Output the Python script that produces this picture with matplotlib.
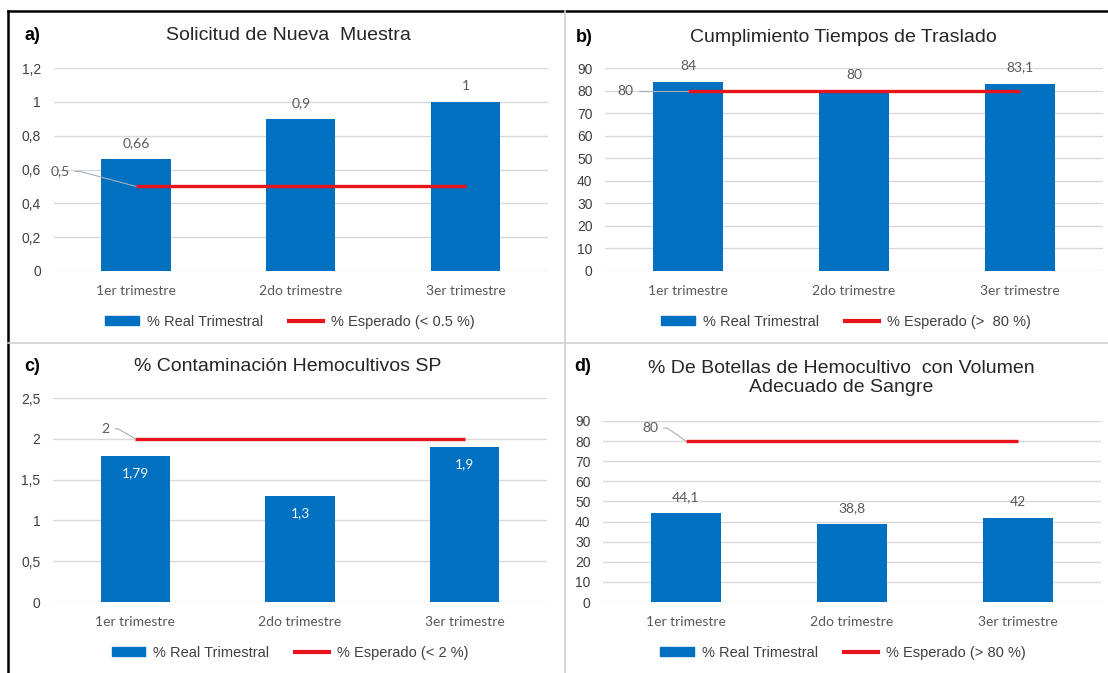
"""Four-panel quarterly indicator chart (real vs expected %)."""
import matplotlib.pyplot as plt
import numpy as np
from matplotlib.lines import Line2D
from matplotlib.patches import Patch

# Data.
quarters = ['1er trimestre', '2do trimestre', '3er trimestre']

real_a = [0.66, 0.9, 1.0]
target_a = [0.5, 0.5, 0.5]
yticks_a = [0, 0.2, 0.4, 0.6, 0.8, 1.0, 1.2]

real_b = [84, 80, 83.1]
target_b = [80, 80, 80]
yticks_b = [0, 10, 20, 30, 40, 50, 60, 70, 80, 90]

real_c = [1.79, 1.3, 1.9]
target_c = [2, 2, 2]
yticks_c = [0, 0.5, 1.0, 1.5, 2.0, 2.5]

real_d = [44.1, 38.8, 42]
target_d = [80, 80, 80]
yticks_d = [0, 10, 20, 30, 40, 50, 60, 70, 80, 90]

titles = ['Solicitud de Nueva  Muestra',
          'Cumplimiento Tiempos de Traslado',
          '% Contaminación Hemocultivos SP',
          '% De Botellas de Hemocultivo  con Volumen\nAdecuado de Sangre']
panel_tags = ['a)', 'b)', 'c)', 'd)']
real_label = '% Real Trimestral'
target_labels = ['% Esperado (< 0.5 %)', '% Esperado (>  80 %)',
                 '% Esperado (< 2 %)', '% Esperado (> 80 %)']

BLUE = '#0070C0'
RED = '#E8141C'
GRID = '#D9D9D9'
W, H = 1108, 673


def fmt(v):
    """ Spanish style number: decimal comma. """
    return f'{round(v, 2):g}'.replace('.', ',')


def fig_xy(x, y):
    return x / W, 1 - y / H


def draw_panel(fig, box, real, target, yticks, tag, title, title_xy,
               target_label, legend_xy, target_offset, leader_angle,
               inside=False):
    x0, y0, x1, y1 = box
    ax = fig.add_axes([x0 / W, 1 - y1 / H, (x1 - x0) / W, (y1 - y0) / H])
    xs = np.arange(len(quarters))

    ax.bar(xs, real, width=0.42, color=BLUE, zorder=2)
    ax.plot(xs, target, color=RED, lw=2.4, zorder=3, solid_capstyle='butt')

    ax.set_xlim(-0.5, len(quarters) - 0.5)
    ax.set_ylim(yticks[0], yticks[-1])
    ax.set_yticks(yticks)
    ax.set_yticklabels([fmt(v) for v in yticks], family='Liberation Sans',
                       fontsize=10, color='#404040')
    ax.set_xticks(xs)
    ax.set_xticklabels(quarters, family='Lato', fontsize=10, color='#595959')
    ax.tick_params(axis='both', length=0)
    ax.tick_params(axis='y', pad=9)
    ax.tick_params(axis='x', pad=10)
    ax.grid(axis='y', color=GRID, lw=1)
    ax.set_axisbelow(True)
    for spine in ax.spines.values():
        spine.set_visible(False)

    # Value labels on the bars.
    for xi, v in zip(xs, real):
        if inside:
            ax.annotate(fmt(v), (xi, v), xytext=(0, -17), textcoords='offset pixels',
                        ha='center', va='center', family='Lato', fontsize=10,
                        color='#F2F8FF', zorder=4)
        else:
            ax.annotate(fmt(v), (xi, v), xytext=(0, 16), textcoords='offset pixels',
                        ha='center', va='center', family='Lato', fontsize=10,
                        color='#595959', zorder=4)

    # Label of the expected value with a leader line.
    ax.annotate(fmt(target[0]), (xs[0], target[0]), xytext=target_offset,
                textcoords='offset pixels', ha='center', va='center',
                family='Lato', fontsize=10, color='#595959',
                arrowprops=dict(arrowstyle='-', color='#A6AFBA', lw=0.8,
                                shrinkA=2, shrinkB=0,
                                connectionstyle=f'angle,angleA=0,angleB={leader_angle},rad=0'))

    tx, ty = fig_xy(*title_xy)
    fig.text(tx, ty, title, ha='center', va='center', family='Liberation Sans',
             fontsize=14, color='#262626', linespacing=1.1)
    gx, gy = fig_xy(box[0] - 29, title_xy[1] if '\n' not in title else title_xy[1] - 11)
    fig.text(gx, gy, tag, ha='left', va='center', family='Liberation Sans',
             fontsize=13, fontweight='bold', color='#000000')

    lx, ly = fig_xy(*legend_xy)
    ax.legend(handles=[Patch(color=BLUE), Line2D([], [], color=RED, lw=3)],
              labels=[real_label, target_label], loc='center',
              bbox_to_anchor=(lx, ly), bbox_transform=fig.transFigure,
              ncol=2, frameon=False, handlelength=2.3, handleheight=0.55,
              handletextpad=0.55, columnspacing=1.8,
              prop={'family': 'Liberation Sans', 'size': 10.5},
              labelcolor='#404040')
    return ax


def main():
    fig = plt.figure(figsize=(W / 100, H / 100), dpi=100)

    draw_panel(fig, (53.5, 68, 548, 271), real_a, target_a, yticks_a,
               panel_tags[0], titles[0], (288, 36), target_labels[0],
               (290, 322), (-76, 15), -15)
    draw_panel(fig, (605, 68, 1103, 271), real_b, target_b, yticks_b,
               panel_tags[1], titles[1], (843, 37), target_labels[1],
               (846, 322), (-63, 0), -10)
    draw_panel(fig, (53, 398, 547, 602), real_c, target_c, yticks_c,
               panel_tags[2], titles[2], (288, 367), target_labels[2],
               (290, 653), (-30, 10), -30, inside=True)
    draw_panel(fig, (603, 421, 1101, 602), real_d, target_d, yticks_d,
               panel_tags[3], titles[3], (841, 378), target_labels[3],
               (843, 653), (-36, 13), -35)

    # Panel frame: black outer border and light dividers.
    def line(p0, p1, color, lw):
        (ax0, ay0), (ax1, ay1) = fig_xy(*p0), fig_xy(*p1)
        fig.add_artist(Line2D([ax0, ax1], [ay0, ay1], transform=fig.transFigure,
                              color=color, lw=lw))

    line((8, 11), (W, 11), '#000000', 1.8)
    line((8, 11), (8, H), '#000000', 1.8)
    line((565, 11), (565, H), '#D0D0D0', 1.2)
    line((8, 343), (W, 343), '#D0D0D0', 1.2)

    fig.savefig('out.png', dpi=100)


if __name__ == '__main__':
    main()
